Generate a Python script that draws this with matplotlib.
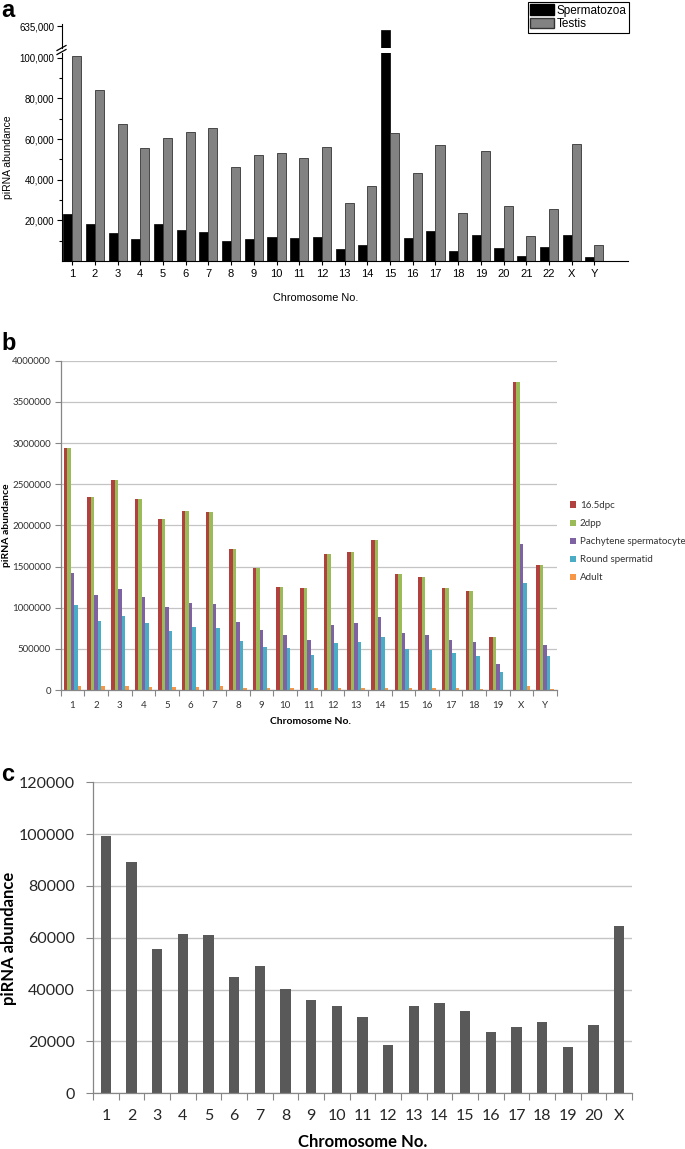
import numpy as np
import matplotlib
matplotlib.use('Agg')
import matplotlib.pyplot as plt
from matplotlib.patches import Patch
from matplotlib.lines import Line2D

# ---- data ----
chrom_a = [str(i) for i in range(1, 23)] + ['X', 'Y']
spermatozoa = [23100, 18400, 13900, 11000, 18000, 15100, 14400, 10000, 10800, 11800, 11300, 11800,
               5700, 8000, 633000, 11300, 14700, 5100, 12900, 6400, 2600, 7000, 12800, 2000]
testis = [100600, 84200, 67500, 55600, 60600, 63300, 65400, 46200, 52100, 52900, 50800, 55900,
          28400, 36700, 62900, 43400, 56900, 23600, 53900, 27200, 12300, 25700, 57400, 7700]

chrom_b = [str(i) for i in range(1, 20)] + ['X', 'Y']
dpc16_5 = [2939000, 2347000, 2556000, 2322000, 2076000, 2169000, 2161000, 1718000, 1480000, 1254000, 1242000,
           1653000, 1673000, 1822000, 1411000, 1371000, 1238000, 1202000, 649000, 3738000, 1520000]
dpp2 = [2939000, 2347000, 2556000, 2322000, 2076000, 2169000, 2161000, 1718000, 1480000, 1254000, 1242000,
        1653000, 1673000, 1822000, 1411000, 1371000, 1238000, 1202000, 649000, 3738000, 1520000]
pachytene = [1423000, 1153000, 1226000, 1133000, 1012000, 1056000, 1048000, 827000, 734000, 673000, 613000,
             794000, 815000, 887000, 694000, 673000, 613000, 585000, 319000, 1778000, 552000]
round_sp = [1028000, 835000, 899000, 819000, 722000, 766000, 750000, 597000, 524000, 508000, 427000,
            573000, 585000, 645000, 500000, 484000, 444000, 419000, 222000, 1294000, 407000]
adult = [48000, 44000, 44000, 36000, 40000, 36000, 44000, 24000, 28000, 24000, 20000,
         28000, 28000, 28000, 24000, 20000, 24000, 16000, 4000, 52000, 16000]
labels_b = ['16.5dpc', '2dpp', 'Pachytene spermatocyte', 'Round spermatid', 'Adult']
colors_b = ['#B0413E', '#9BBB59', '#7E62A1', '#4BACC6', '#F79646']

chrom_c = [str(i) for i in range(1, 21)] + ['X']
abund_c = [99400, 89400, 55600, 61400, 60900, 45000, 49000, 40300, 35900, 33600, 29500,
           18800, 33800, 34700, 31900, 23800, 25600, 27400, 17900, 26400, 64700]

W, H = 685, 1149
ARIAL = ['Liberation Sans', 'DejaVu Sans']
CAL = ['Lato', 'DejaVu Sans']


def box(l, t, r, b):
    # pixel box -> figure coords
    return [l / W, 1 - b / H, (r - l) / W, (b - t) / H]


def ftext(x, y, s, **kw):
    fig.text(x / W, 1 - y / H, s, **kw)


fig = plt.figure(figsize=(W / 100, H / 100), dpi=100)

# ================= panel a (broken axis) =================
ax_lo = fig.add_axes(box(61.5, 53, 628, 261))
ax_hi = fig.add_axes(box(61.5, 24, 628, 48.4))
xa = np.arange(len(chrom_a))
for ax in (ax_lo, ax_hi):
    ax.bar(xa - 0.4, spermatozoa, width=0.4, align='edge', color='black', edgecolor='black', lw=0.5)
    ax.bar(xa, testis, width=0.4, align='edge', color='#828282', edgecolor='#333333', lw=0.6)
    ax.set_xlim(-0.47, 24.48)
    ax.spines['top'].set_visible(False)
    ax.spines['right'].set_visible(False)

ax_lo.set_ylim(0, 102300)
ax_lo.set_yticks([20000, 40000, 60000, 80000, 100000])
ax_lo.set_yticklabels(['20,000', '40,000', '60,000', '80,000', '100,000'], family=ARIAL, fontsize=7)
ax_lo.set_yticks([10000, 30000, 50000, 70000, 90000], minor=True)
ax_lo.set_xticks(xa)
ax_lo.set_xticklabels(chrom_a, family=ARIAL, fontsize=8)
ax_lo.tick_params(axis='y', which='major', length=3.5, width=0.8, pad=1.5)
ax_lo.tick_params(axis='y', which='minor', length=2, width=0.8)
ax_lo.tick_params(axis='x', length=3, width=0.8, pad=3)

ax_hi.set_ylim(624000, 636000)
ax_hi.set_yticks([635000])
ax_hi.set_yticklabels(['635,000'], family=ARIAL, fontsize=7)
ax_hi.tick_params(axis='y', length=3.5, width=0.8, pad=1.5)
ax_hi.spines['bottom'].set_visible(False)
ax_hi.set_xticks([])

# break marks
for y0 in (50.5, 54.5):
    fig.add_artist(Line2D([57 / W, 66 / W], [1 - y0 / H, 1 - (y0 - 5) / H], color='black', lw=0.9))

ftext(316, 298, 'Chromosome No.', family=ARIAL, fontsize=7.8, ha='center', va='center')
ftext(8, 157, 'piRNA abundance', family=ARIAL, fontsize=7.5, rotation=90, ha='center', va='center')

handles_a = [Patch(facecolor='black', edgecolor='black'),
             Patch(facecolor='#828282', edgecolor='#333333')]
leg_a = fig.legend(handles_a, ['Spermatozoa', 'Testis'], loc='upper right',
                   bbox_to_anchor=(629 / W, 1 - 2 / H), prop={'family': ARIAL, 'size': 8.5},
                   fancybox=False, edgecolor='black', framealpha=1, borderpad=0.2,
                   handlelength=2.0, handleheight=1.0, handletextpad=0.25, labelspacing=0.1,
                   borderaxespad=0)
leg_a.get_frame().set_linewidth(0.8)

# ================= panel b =================
ax_b = fig.add_axes(box(60.7, 360.7, 557, 690))
xb = np.arange(len(chrom_b))
bw = 0.148
for k, vals in enumerate([dpc16_5, dpp2, pachytene, round_sp, adult]):
    ax_b.bar(xb + (k - 2) * bw, vals, width=bw, color=colors_b[k], label=labels_b[k])
ax_b.set_xlim(-0.5, len(chrom_b) - 0.5)
ax_b.set_ylim(0, 4000000)
ax_b.set_yticks(np.arange(0, 4000001, 500000))
ax_b.set_yticklabels([str(v) for v in range(0, 4000001, 500000)], family=CAL, fontsize=7, color='#333333')
ax_b.set_xticks(xb)
ax_b.set_xticklabels(chrom_b, family=CAL, fontsize=7, color='#333333')
ax_b.set_xticks(np.arange(-0.5, len(chrom_b)), minor=True)
ax_b.tick_params(axis='x', which='major', length=0, pad=8)
ax_b.tick_params(axis='x', which='minor', length=4, color='#868686', width=0.8)
ax_b.tick_params(axis='y', length=4, color='#868686', width=0.8, pad=3)
ax_b.yaxis.grid(True, color='#c4c4c4', lw=0.9)
ax_b.set_axisbelow(True)
for s in ('top', 'right'):
    ax_b.spines[s].set_visible(False)
for s in ('left', 'bottom'):
    ax_b.spines[s].set_color('#868686')
    ax_b.spines[s].set_linewidth(0.9)

ftext(310, 722, 'Chromosome No.', family=CAL, fontsize=7.5, weight='bold', ha='center', va='center')
ftext(7, 525, 'piRNA abundance', family=CAL, fontsize=7.5, weight='bold', rotation=90, ha='center', va='center')

leg_b = fig.legend(*ax_b.get_legend_handles_labels(), loc='upper left',
                   bbox_to_anchor=(570 / W, 1 - 501 / H), prop={'family': CAL, 'size': 7},
                   frameon=False, handlelength=0.6, handleheight=0.6, handletextpad=0.4,
                   labelspacing=0.93, borderaxespad=0, borderpad=0)
for t in leg_b.get_texts():
    t.set_color('#333333')

# ================= panel c =================
ax_c = fig.add_axes(box(93, 782.3, 632, 1093.3))
xc = np.arange(len(chrom_c))
ax_c.bar(xc, abund_c, width=0.4, color='#595959')
ax_c.set_xlim(-0.5, len(chrom_c) - 0.5)
ax_c.set_ylim(0, 120000)
ax_c.set_yticks(np.arange(0, 120001, 20000))
ax_c.set_yticklabels([str(v) for v in range(0, 120001, 20000)], family=CAL, fontsize=11.5, color='#262626')
ax_c.set_xticks(xc)
ax_c.set_xticklabels(chrom_c, family=CAL, fontsize=11.5, color='#262626')
ax_c.set_xticks(np.arange(-0.5, len(chrom_c)), minor=True)
ax_c.tick_params(axis='x', which='major', length=0, pad=11)
ax_c.tick_params(axis='x', which='minor', length=5, color='#868686', width=0.8)
ax_c.tick_params(axis='y', length=5, color='#868686', width=0.8, pad=8)
ax_c.yaxis.grid(True, color='#c4c4c4', lw=1.0)
ax_c.set_axisbelow(True)
for s in ('top', 'right'):
    ax_c.spines[s].set_visible(False)
for s in ('left', 'bottom'):
    ax_c.spines[s].set_color('#868686')
    ax_c.spines[s].set_linewidth(0.9)

ftext(363, 1142, 'Chromosome No.', family=CAL, fontsize=12, weight='bold', ha='center', va='center')
ftext(9, 938, 'piRNA abundance', family=CAL, fontsize=12, weight='bold', rotation=90, ha='center', va='center')

# panel letters
ftext(1, 17, 'a', family=ARIAL, fontsize=17, weight='bold', ha='left', va='baseline')
ftext(1, 350, 'b', family=ARIAL, fontsize=17, weight='bold', ha='left', va='baseline')
ftext(1, 781, 'c', family=ARIAL, fontsize=17, weight='bold', ha='left', va='baseline')

fig.savefig('out.png', dpi=100, facecolor='white')
